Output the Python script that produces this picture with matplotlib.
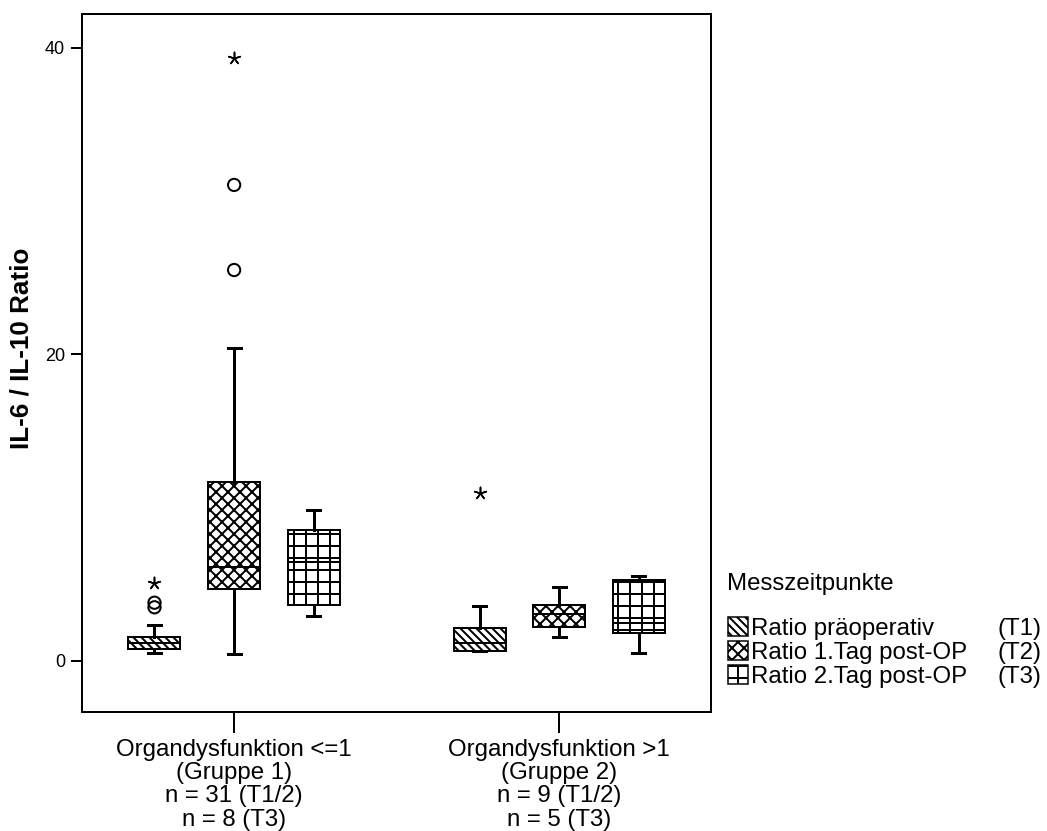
import matplotlib
matplotlib.use("Agg")
import matplotlib.pyplot as plt
from matplotlib.patches import Patch

plt.rcParams["font.family"] = ["Liberation Sans", "DejaVu Sans"]
plt.rcParams["hatch.linewidth"] = 2.0

# Gruppen (x-Achse) und Messzeitpunkte (Legende)
group_labels = [
    "Organdysfunktion <=1\n(Gruppe 1)\nn = 31 (T1/2)\nn = 8 (T3)",
    "Organdysfunktion >1\n(Gruppe 2)\nn = 9 (T1/2)\nn = 5 (T3)",
]
series_labels = ["Ratio präoperativ", "Ratio 1.Tag post-OP", "Ratio 2.Tag post-OP"]
series_tags = ["(T1)", "(T2)", "(T3)"]

# Boxplot-Kennwerte, Reihenfolge: G1-T1, G1-T2, G1-T3, G2-T1, G2-T2, G2-T3
q1 = [0.8, 4.7, 3.65, 0.65, 2.2, 1.8]
med = [1.2, 6.1, 6.45, 1.2, 3.05, 2.5]
q3 = [1.55, 11.7, 8.55, 2.15, 3.65, 5.3]
whislo = [0.5, 0.45, 2.9, 0.65, 1.55, 0.5]
whishi = [2.35, 20.4, 9.85, 3.6, 4.85, 5.55]

# Ausreisser (Kreis) und Extremwerte (Stern): Index der Box + Wert
circle_box = [0, 0, 1, 1]
circle_val = [3.5, 3.8, 25.5, 31.05]
star_box = [0, 1, 3]
star_val = [5.1, 39.3, 10.95]

hatches = ["\\\\\\", "xx", "+"]
offsets = [-0.245, 0.0, 0.245]

positions = []
for g in range(len(group_labels)):
    for o in offsets:
        positions.append(g + 1 + o)

stats = []
for i in range(len(q1)):
    stats.append(dict(med=med[i], q1=q1[i], q3=q3[i],
                      whislo=whislo[i], whishi=whishi[i], fliers=[]))

fig = plt.figure(figsize=(1047 / 72, 831 / 72), dpi=72)
ax = fig.add_axes([82 / 1047, 1 - 712 / 831, 629 / 1047, 698 / 831])

bp = ax.bxp(
    stats, positions=positions, widths=0.16, patch_artist=True,
    showfliers=False, capwidths=0.04,
    boxprops=dict(facecolor="white", edgecolor="black", linewidth=2),
    medianprops=dict(color="black", linewidth=2),
    whiskerprops=dict(color="black", linewidth=3),
    capprops=dict(color="black", linewidth=3),
)
for i, box in enumerate(bp["boxes"]):
    box.set_hatch(hatches[i % 3])

ax.scatter([positions[b] for b in circle_box], circle_val, marker="o", s=150,
           facecolors="none", edgecolors="black", linewidths=2, zorder=4)
ax.scatter([positions[b] for b in star_box], star_val, marker=(5, 2, 0), s=150,
           color="black", linewidths=1.6, zorder=4)

ax.set_xlim(0.532, 2.467)
ax.set_ylim(-3.33, 42.2)
ax.set_yticks([0, 20, 40])
ax.set_xticks([1, 2])
ax.set_xticklabels(group_labels, linespacing=1.07)
ax.tick_params(axis="y", direction="out", length=11, width=2, labelsize=18, pad=6)
ax.tick_params(axis="x", direction="out", length=21, width=2, labelsize=24, pad=6)
for sp in ax.spines.values():
    sp.set_linewidth(2)

ax.set_ylabel("IL-6 / IL-10 Ratio", fontsize=26, fontweight="bold")
ax.yaxis.set_label_coords(-48 / 629, 0.521)

# Legende
fig.text(727 / 1047, 1 - 584 / 831, "Messzeitpunkte", fontsize=24, va="center", ha="left")
handles = [Patch(facecolor="white", edgecolor="black", hatch=h, linewidth=1.5)
           for h in hatches]
leg = fig.legend(handles, series_labels, loc="upper left",
                 bbox_to_anchor=(728 / 1047, 1 - 617 / 831), frameon=False,
                 fontsize=24, handlelength=0.85, handleheight=0.85,
                 handletextpad=0.12, labelspacing=0.05, borderpad=0,
                 borderaxespad=0)

fig.canvas.draw()
for t, tag in zip(leg.get_texts(), series_tags):
    bb = t.get_window_extent()
    yc = (bb.y0 + bb.y1) / 2 / fig.bbox.height
    fig.text(998 / 1047, yc, tag, fontsize=24, va="center", ha="left")

fig.savefig("out.png", dpi=72)
